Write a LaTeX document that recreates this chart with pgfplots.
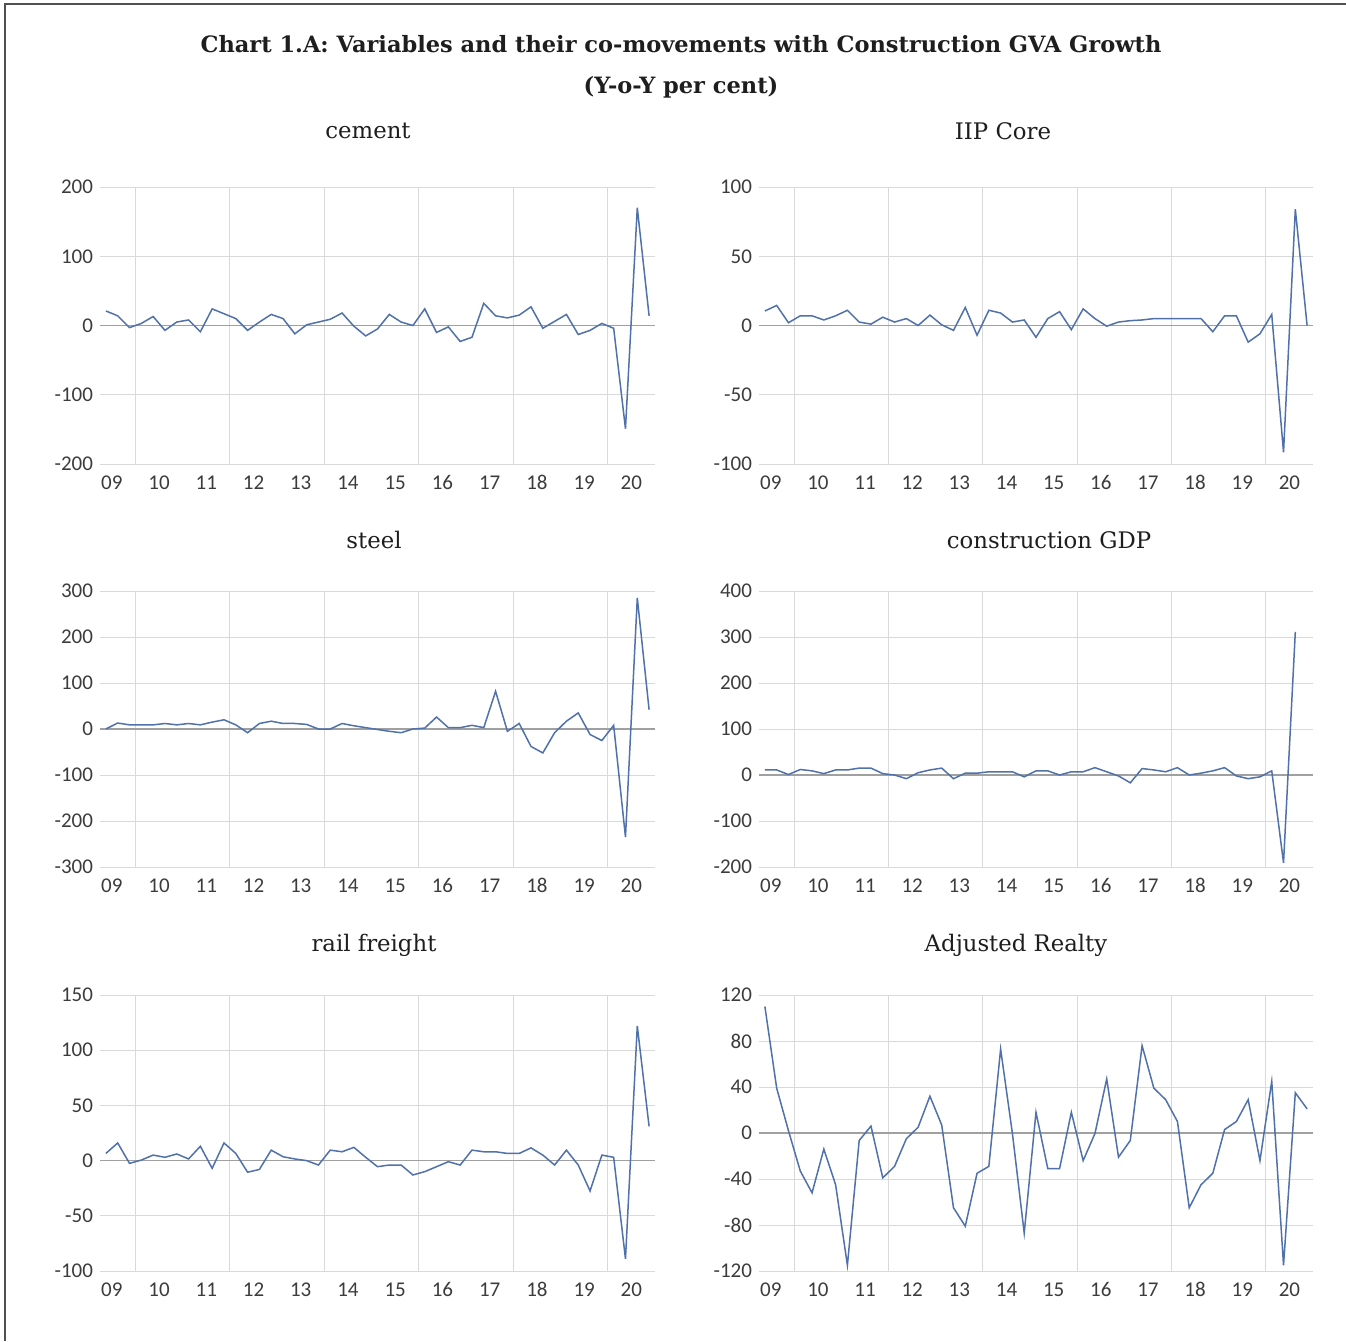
\documentclass[border=0pt]{standalone}
\usepackage{fontspec}
\setmainfont{DejaVu Serif}
\newfontfamily\tickfont{Carlito}
\usepackage{pgfplots}
\pgfplotsset{compat=1.18}
\definecolor{lineblue}{RGB}{80,113,170}
\definecolor{gridgray}{RGB}{217,217,217}
\definecolor{zerogray}{RGB}{160,160,160}
\definecolor{ticktext}{RGB}{60,60,60}
\definecolor{framegray}{RGB}{80,80,80}
\definecolor{titletext}{RGB}{30,30,30}
\pgfplotsset{panel/.style={
  scale only axis, anchor=north west,
  xmin=-0.5, xmax=46.5,
  xtick={0.5,4.5,...,44.5},
  xticklabels={09,10,11,12,13,14,15,16,17,18,19,20},
  extra x ticks={2.5,10.5,18.5,26.5,34.5,42.5},
  extra x tick labels={},
  extra x tick style={grid=major, major grid style={gridgray, line width=0.5pt}},
  ymajorgrids, major grid style={gridgray, line width=0.5pt},
  extra y ticks={0}, extra y tick labels={},
  extra y tick style={grid=major, major grid style={zerogray, line width=0.6pt}},
  axis line style={draw=none},
  major tick length=0pt,
  tick style={draw=none},
  ticklabel style={font=\tickfont\fontsize{10.5}{12}\selectfont, text=ticktext},
  xticklabel style={anchor=north, text height=6.8pt, text depth=0pt, yshift=-2.5pt},
}}
\begin{document}
\begin{tikzpicture}
\useasboundingbox (0,0) rectangle (673pt,-670.5pt);
\fill[white] (0,0) rectangle (673pt,-670.5pt);
\draw[framegray, line width=1pt] (2.5pt,-670.5pt) -- (2.5pt,-2pt) -- (673pt,-2pt);
\node[titletext, font=\bfseries\fontsize{11.25}{13}\selectfont] at (340.5pt,-22pt) {Chart 1.A: Variables and their co-movements with Construction GVA Growth};
\node[titletext, font=\bfseries\fontsize{11.25}{13}\selectfont] at (340.5pt,-43.5pt) {(Y-o-Y per cent)};
\node[titletext, font=\fontsize{11.4}{13}\selectfont] at (184pt,-65.5pt) {cement};
\node[titletext, font=\fontsize{11.4}{13}\selectfont] at (501.5pt,-65.5pt) {IIP Core};
\node[titletext, font=\fontsize{11.4}{13}\selectfont] at (187pt,-270pt) {steel};
\node[titletext, font=\fontsize{11.4}{13}\selectfont] at (524.5pt,-270pt) {construction GDP};
\node[titletext, font=\fontsize{11.4}{13}\selectfont] at (187pt,-472.5pt) {rail freight};
\node[titletext, font=\fontsize{11.4}{13}\selectfont] at (508pt,-472.5pt) {Adjusted Realty};

% cement
\begin{axis}[panel, at={(50pt,-93.5pt)}, width=277.5pt, height=138.5pt,
  ymin=-200, ymax=200, ytick={-200,-100,0,100,200}, yticklabels={-200,-100,0,100,200}]
\addplot[lineblue, line width=0.75pt, no markers] coordinates {
(0,21)(1,14)(2,-3)(3,3)(4,13)(5,-7)(6,5)(7,8)(8,-9)(9,24)(10,17)(11,10)(12,-7)(13,5)(14,16)(15,10)
(16,-12)(17,1)(18,5)(19,9)(20,18)(21,-1)(22,-15)(23,-5)(24,16)(25,5)(26,0)(27,24)(28,-10)(29,-2)(30,-23)(31,-17)
(32,32)(33,14)(34,11)(35,15)(36,27)(37,-4)(38,6)(39,16)(40,-13)(41,-7)(42,3)(43,-4)(44,-149)(45,170)(46,14)};
\end{axis}

% IIP Core
\begin{axis}[panel, at={(379.5pt,-93.5pt)}, width=277pt, height=138.5pt,
  ymin=-100, ymax=100, ytick={-100,-50,0,50,100}, yticklabels={-100,-50,0,50,100}]
\addplot[lineblue, line width=0.75pt, no markers] coordinates {
(0,10.5)(1,14.5)(2,2)(3,7)(4,7)(5,4)(6,7)(7,11)(8,2.5)(9,1)(10,6)(11,2.5)(12,5)(13,0)(14,7.5)(15,0.5)
(16,-3.5)(17,13)(18,-7)(19,11)(20,9)(21,2.5)(22,4)(23,-8.5)(24,5)(25,10)(26,-3)(27,12)(28,5)(29,-0.5)(30,2.5)(31,3.5)
(32,4)(33,5)(34,5)(35,5)(36,5)(37,5)(38,-4.5)(39,7)(40,7)(41,-12)(42,-6)(43,8)(44,-91.5)(45,84)(46,0)};
\end{axis}

% steel
\begin{axis}[panel, at={(50pt,-295.5pt)}, width=277.5pt, height=138pt,
  ymin=-300, ymax=300, ytick={-300,-200,...,300}, yticklabels={-300,-200,-100,0,100,200,300}]
\addplot[lineblue, line width=0.75pt, no markers] coordinates {
(0,0)(1,13)(2,9)(3,9)(4,9)(5,12)(6,9)(7,12)(8,9)(9,15)(10,20)(11,9)(12,-8)(13,12)(14,17)(15,12)
(16,12)(17,10)(18,0)(19,0)(20,12)(21,7)(22,3)(23,-1)(24,-5)(25,-8)(26,0)(27,2)(28,26)(29,3)(30,3)(31,8)
(32,3)(33,82)(34,-5)(35,12)(36,-38)(37,-52)(38,-8)(39,17)(40,35)(41,-12)(42,-25)(43,8)(44,-235)(45,285)(46,42)};
\end{axis}

% construction GDP
\begin{axis}[panel, at={(379.5pt,-295.5pt)}, width=277pt, height=138pt,
  ymin=-200, ymax=400, ytick={-200,-100,...,400}, yticklabels={-200,-100,0,100,200,300,400}]
\addplot[lineblue, line width=0.75pt, no markers] coordinates {
(0,11)(1,11)(2,1)(3,12)(4,9)(5,3)(6,11)(7,11)(8,15)(9,15)(10,3)(11,0)(12,-8)(13,5)(14,11)(15,15)
(16,-8)(17,4)(18,4)(19,7)(20,7)(21,7)(22,-4)(23,9)(24,9)(25,0)(26,7)(27,7)(28,16)(29,7)(30,-2)(31,-17)
(32,14)(33,11)(34,7)(35,16)(36,0)(37,4)(38,9)(39,16)(40,-2)(41,-8)(42,-4)(43,9)(44,-191)(45,311)};
\end{axis}

% rail freight
\begin{axis}[panel, at={(50pt,-497.5pt)}, width=277.5pt, height=138pt,
  ymin=-100, ymax=150, ytick={-100,-50,...,150}, yticklabels={-100,-50,0,50,100,150}]
\addplot[lineblue, line width=0.75pt, no markers] coordinates {
(0,6.5)(1,16)(2,-2.5)(3,0.5)(4,5)(5,3)(6,6)(7,1.5)(8,13)(9,-7)(10,16)(11,6.5)(12,-10.5)(13,-8)(14,9.5)(15,3.5)
(16,1.5)(17,0)(18,-4)(19,9.5)(20,8)(21,12)(22,3)(23,-5.5)(24,-4)(25,-4)(26,-13)(27,-10)(28,-5.5)(29,-1)(30,-4)(31,9.5)
(32,8)(33,8)(34,6.5)(35,6.5)(36,11.5)(37,5)(38,-4)(39,9.5)(40,-4)(41,-27.5)(42,5)(43,3)(44,-89)(45,122)(46,31)};
\end{axis}

% Adjusted Realty
\begin{axis}[panel, at={(379.5pt,-497.5pt)}, width=277pt, height=138pt,
  ymin=-120, ymax=120, ytick={-120,-80,...,120}, yticklabels={-120,-80,-40,0,40,80,120}]
\addplot[lineblue, line width=0.75pt, no markers] coordinates {
(0,110)(1,39)(2,2)(3,-33)(4,-52)(5,-14)(6,-45)(7,-115)(8,-6.5)(9,6)(10,-39)(11,-29)(12,-5)(13,5)(14,32)(15,7)
(16,-65)(17,-81)(18,-35)(19,-29)(20,73)(21,-0.5)(22,-87)(23,18)(24,-31)(25,-31)(26,18)(27,-24)(28,-0.5)(29,47)(30,-21)(31,-6.5)
(32,76)(33,39)(34,29)(35,10)(36,-65)(37,-45)(38,-35)(39,3)(40,10)(41,29)(42,-24)(43,45)(44,-115)(45,35)(46,21)};
\end{axis}
\end{tikzpicture}
\end{document}
